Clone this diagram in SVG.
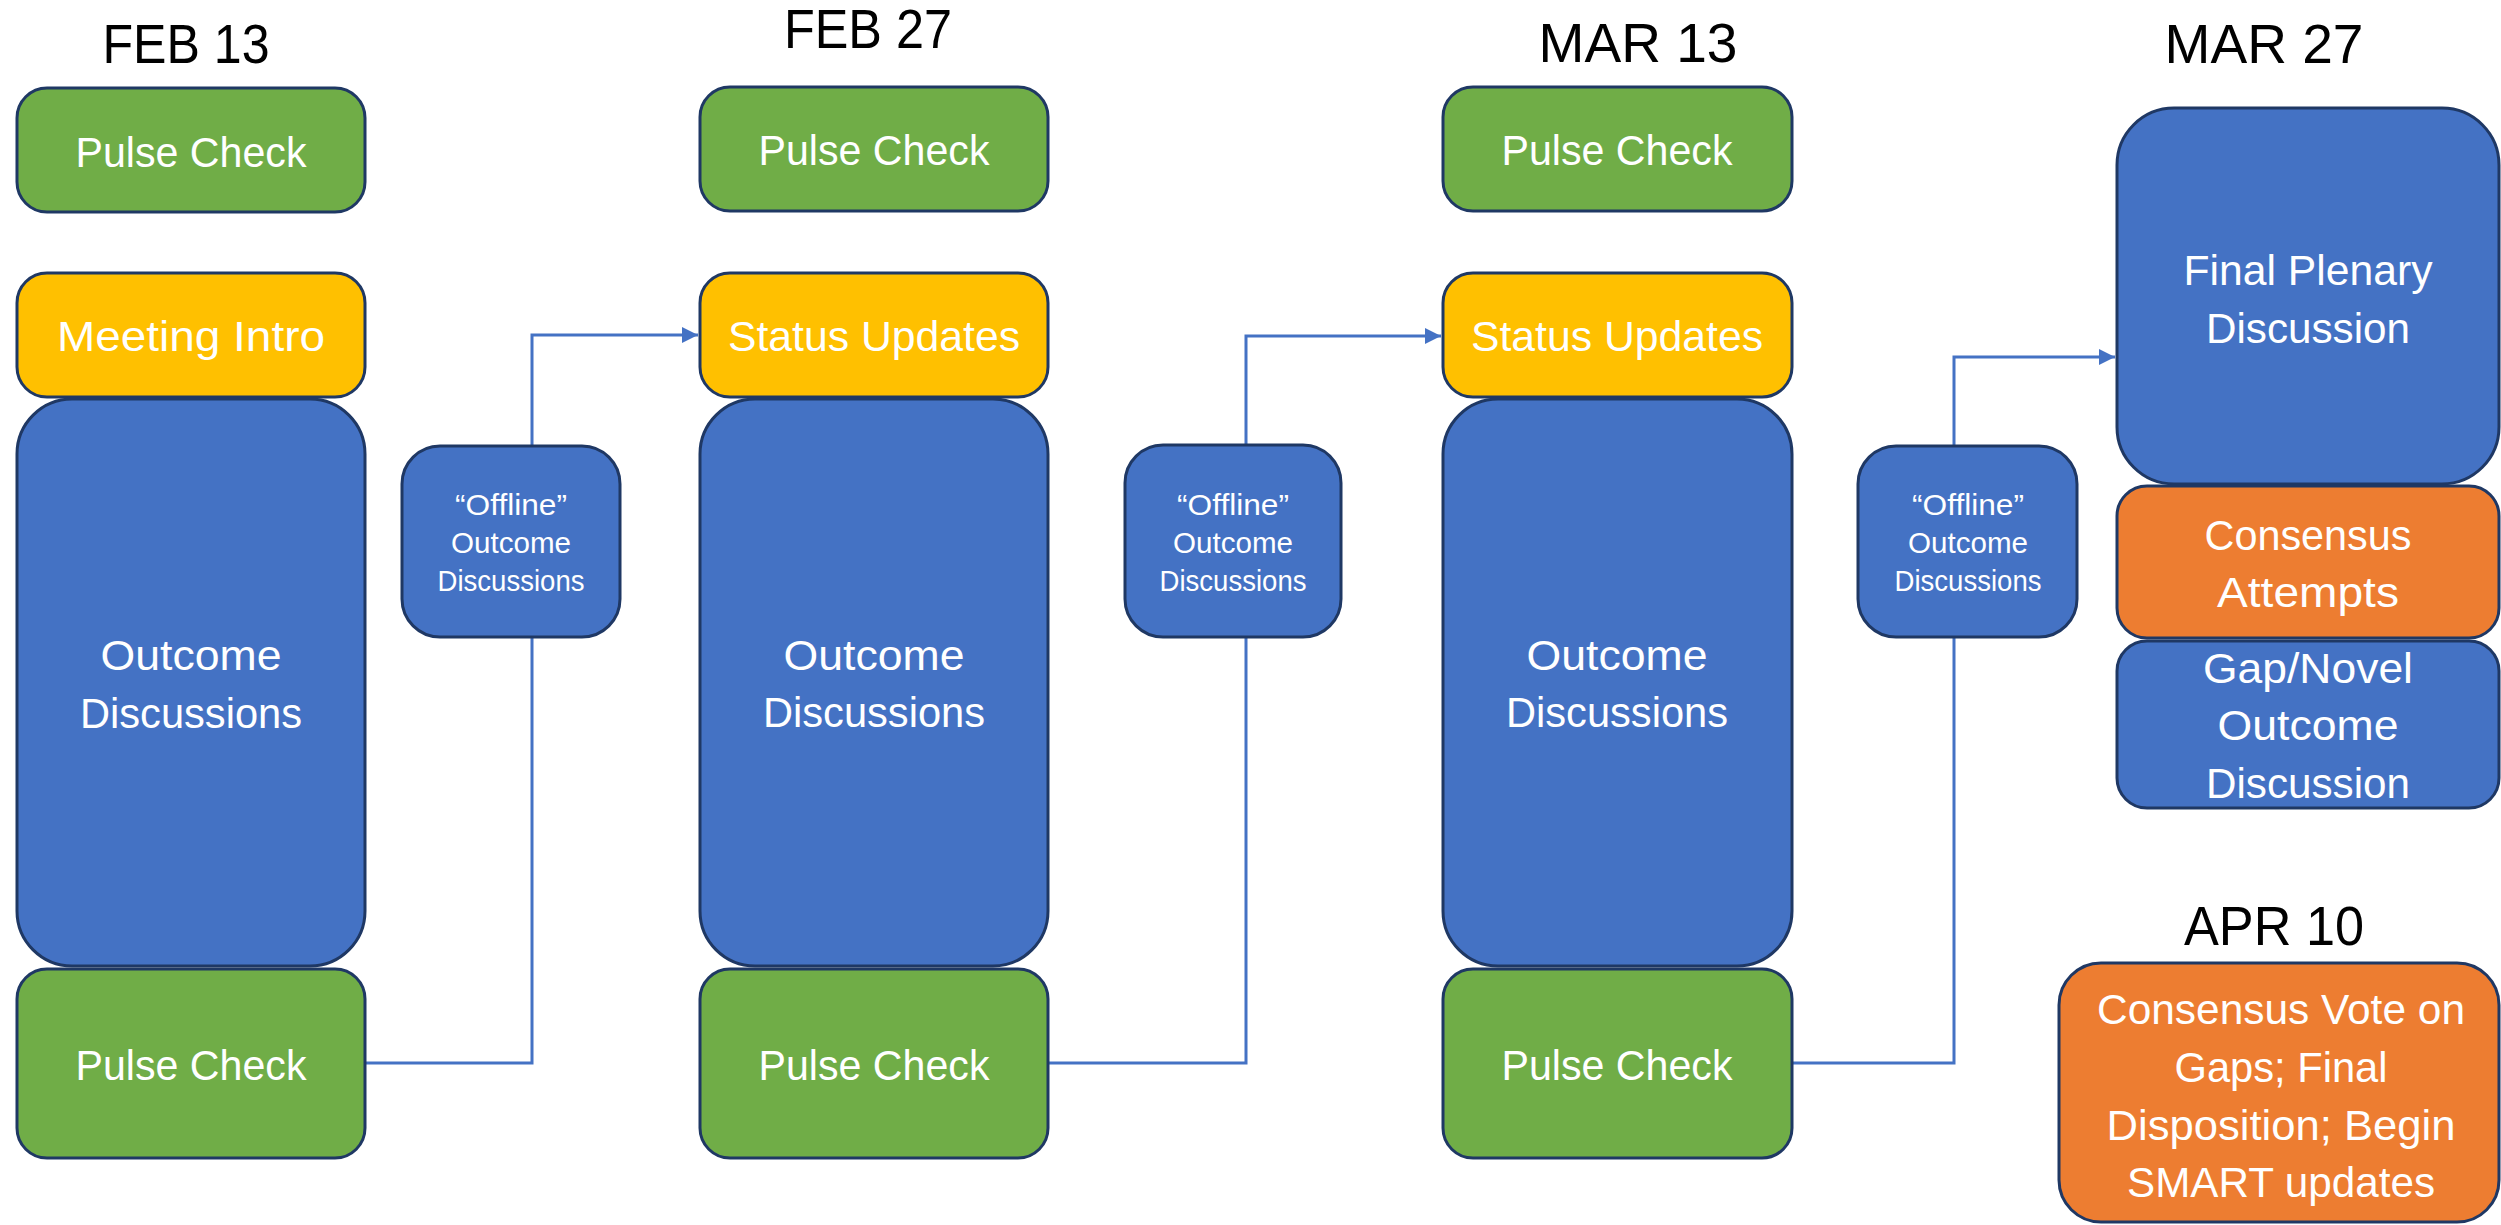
<svg xmlns="http://www.w3.org/2000/svg" width="2501" height="1225" viewBox="0 0 2501 1225">
<style>
text{font-family:"Liberation Sans",Arial,sans-serif;text-anchor:middle;fill:#fff}
.date{fill:#000;font-size:56px}
.t{font-size:43px}
.s{font-size:29px}
.box{stroke:#1F3864;stroke-width:3}
.g{fill:#70AD47}.y{fill:#FFC000}.b{fill:#4472C4}.o{fill:#ED7D31}
.conn{fill:none;stroke:#4472C4;stroke-width:3}
</style>
<defs>
<marker id="arr" markerUnits="userSpaceOnUse" markerWidth="18" markerHeight="16" refX="16" refY="8" orient="auto">
<path d="M0,0 L16,8 L0,16 Z" fill="#4472C4"/>
</marker>
</defs>
<rect width="2501" height="1225" fill="#fff"/>
<g id="connectors">
<path class="conn" d="M365,1063 H532 V335 H698" marker-end="url(#arr)"/>
<path class="conn" d="M1048,1063 H1246 V336 H1441" marker-end="url(#arr)"/>
<path class="conn" d="M1792,1063 H1954 V357 H2115" marker-end="url(#arr)"/>
</g>
<g id="labels">
<text class="date" x="186" y="63" textLength="167" lengthAdjust="spacingAndGlyphs">FEB 13</text>
<text class="date" x="868" y="48" textLength="168" lengthAdjust="spacingAndGlyphs">FEB 27</text>
<text class="date" x="1638" y="62" textLength="199" lengthAdjust="spacingAndGlyphs">MAR 13</text>
<text class="date" x="2264" y="63" textLength="199" lengthAdjust="spacingAndGlyphs">MAR 27</text>
<text class="date" x="2274" y="945" textLength="180" lengthAdjust="spacingAndGlyphs">APR 10</text>
</g>
<g id="feb13-pulse-top"><rect class="box g" x="17" y="88" width="348" height="124" rx="30"/><text class="t" x="191" y="167" textLength="231" lengthAdjust="spacingAndGlyphs">Pulse Check</text></g>
<g id="feb13-intro"><rect class="box y" x="17" y="273" width="348" height="124" rx="30"/><text class="t" x="191" y="351" textLength="268" lengthAdjust="spacingAndGlyphs">Meeting Intro</text></g>
<g id="feb13-outcome"><rect class="box b" x="17" y="399" width="348" height="567" rx="55"/><text class="t" x="191" y="670" textLength="181" lengthAdjust="spacingAndGlyphs">Outcome</text><text class="t" x="191" y="728" textLength="222" lengthAdjust="spacingAndGlyphs">Discussions</text></g>
<g id="feb13-pulse-bottom"><rect class="box g" x="17" y="969" width="348" height="189" rx="30"/><text class="t" x="191" y="1080" textLength="231" lengthAdjust="spacingAndGlyphs">Pulse Check</text></g>
<g id="offline-1"><rect class="box b" x="402" y="446" width="218" height="191" rx="38"/><text class="s" x="511" y="515" textLength="112" lengthAdjust="spacingAndGlyphs">“Offline”</text><text class="s" x="511" y="553" textLength="120" lengthAdjust="spacingAndGlyphs">Outcome</text><text class="s" x="511" y="591" textLength="147" lengthAdjust="spacingAndGlyphs">Discussions</text></g>
<g id="feb27-pulse-top"><rect class="box g" x="700" y="87" width="348" height="124" rx="30"/><text class="t" x="874" y="165" textLength="231" lengthAdjust="spacingAndGlyphs">Pulse Check</text></g>
<g id="feb27-status"><rect class="box y" x="700" y="273" width="348" height="124" rx="30"/><text class="t" x="874" y="351" textLength="292" lengthAdjust="spacingAndGlyphs">Status Updates</text></g>
<g id="feb27-outcome"><rect class="box b" x="700" y="399" width="348" height="567" rx="55"/><text class="t" x="874" y="670" textLength="181" lengthAdjust="spacingAndGlyphs">Outcome</text><text class="t" x="874" y="727" textLength="222" lengthAdjust="spacingAndGlyphs">Discussions</text></g>
<g id="feb27-pulse-bottom"><rect class="box g" x="700" y="969" width="348" height="189" rx="30"/><text class="t" x="874" y="1080" textLength="231" lengthAdjust="spacingAndGlyphs">Pulse Check</text></g>
<g id="offline-2"><rect class="box b" x="1125" y="445" width="216" height="192" rx="38"/><text class="s" x="1233" y="515" textLength="112" lengthAdjust="spacingAndGlyphs">“Offline”</text><text class="s" x="1233" y="553" textLength="120" lengthAdjust="spacingAndGlyphs">Outcome</text><text class="s" x="1233" y="591" textLength="147" lengthAdjust="spacingAndGlyphs">Discussions</text></g>
<g id="mar13-pulse-top"><rect class="box g" x="1443" y="87" width="349" height="124" rx="30"/><text class="t" x="1617" y="165" textLength="231" lengthAdjust="spacingAndGlyphs">Pulse Check</text></g>
<g id="mar13-status"><rect class="box y" x="1443" y="273" width="349" height="124" rx="30"/><text class="t" x="1617" y="351" textLength="292" lengthAdjust="spacingAndGlyphs">Status Updates</text></g>
<g id="mar13-outcome"><rect class="box b" x="1443" y="399" width="349" height="567" rx="55"/><text class="t" x="1617" y="670" textLength="181" lengthAdjust="spacingAndGlyphs">Outcome</text><text class="t" x="1617" y="727" textLength="222" lengthAdjust="spacingAndGlyphs">Discussions</text></g>
<g id="mar13-pulse-bottom"><rect class="box g" x="1443" y="969" width="349" height="189" rx="30"/><text class="t" x="1617" y="1080" textLength="231" lengthAdjust="spacingAndGlyphs">Pulse Check</text></g>
<g id="offline-3"><rect class="box b" x="1858" y="446" width="219" height="191" rx="38"/><text class="s" x="1968" y="515" textLength="112" lengthAdjust="spacingAndGlyphs">“Offline”</text><text class="s" x="1968" y="553" textLength="120" lengthAdjust="spacingAndGlyphs">Outcome</text><text class="s" x="1968" y="591" textLength="147" lengthAdjust="spacingAndGlyphs">Discussions</text></g>
<g id="mar27-plenary"><rect class="box b" x="2117" y="108" width="382" height="376" rx="57"/><text class="t" x="2308" y="285" textLength="249" lengthAdjust="spacingAndGlyphs">Final Plenary</text><text class="t" x="2308" y="343" textLength="204" lengthAdjust="spacingAndGlyphs">Discussion</text></g>
<g id="mar27-consensus"><rect class="box o" x="2117" y="486" width="382" height="152" rx="30"/><text class="t" x="2308" y="550" textLength="207" lengthAdjust="spacingAndGlyphs">Consensus</text><text class="t" x="2308" y="607" textLength="182" lengthAdjust="spacingAndGlyphs">Attempts</text></g>
<g id="mar27-gap"><rect class="box b" x="2117" y="641" width="382" height="167" rx="30"/><text class="t" x="2308" y="683" textLength="210" lengthAdjust="spacingAndGlyphs">Gap/Novel</text><text class="t" x="2308" y="740" textLength="181" lengthAdjust="spacingAndGlyphs">Outcome</text><text class="t" x="2308" y="798" textLength="204" lengthAdjust="spacingAndGlyphs">Discussion</text></g>
<g id="apr10-vote"><rect class="box o" x="2059" y="963" width="440" height="259" rx="42"/><text class="t" x="2281" y="1024" textLength="368" lengthAdjust="spacingAndGlyphs">Consensus Vote on</text><text class="t" x="2281" y="1082" textLength="213" lengthAdjust="spacingAndGlyphs">Gaps; Final</text><text class="t" x="2281" y="1140" textLength="349" lengthAdjust="spacingAndGlyphs">Disposition; Begin</text><text class="t" x="2281" y="1197" textLength="308" lengthAdjust="spacingAndGlyphs">SMART updates</text></g>
</svg>
